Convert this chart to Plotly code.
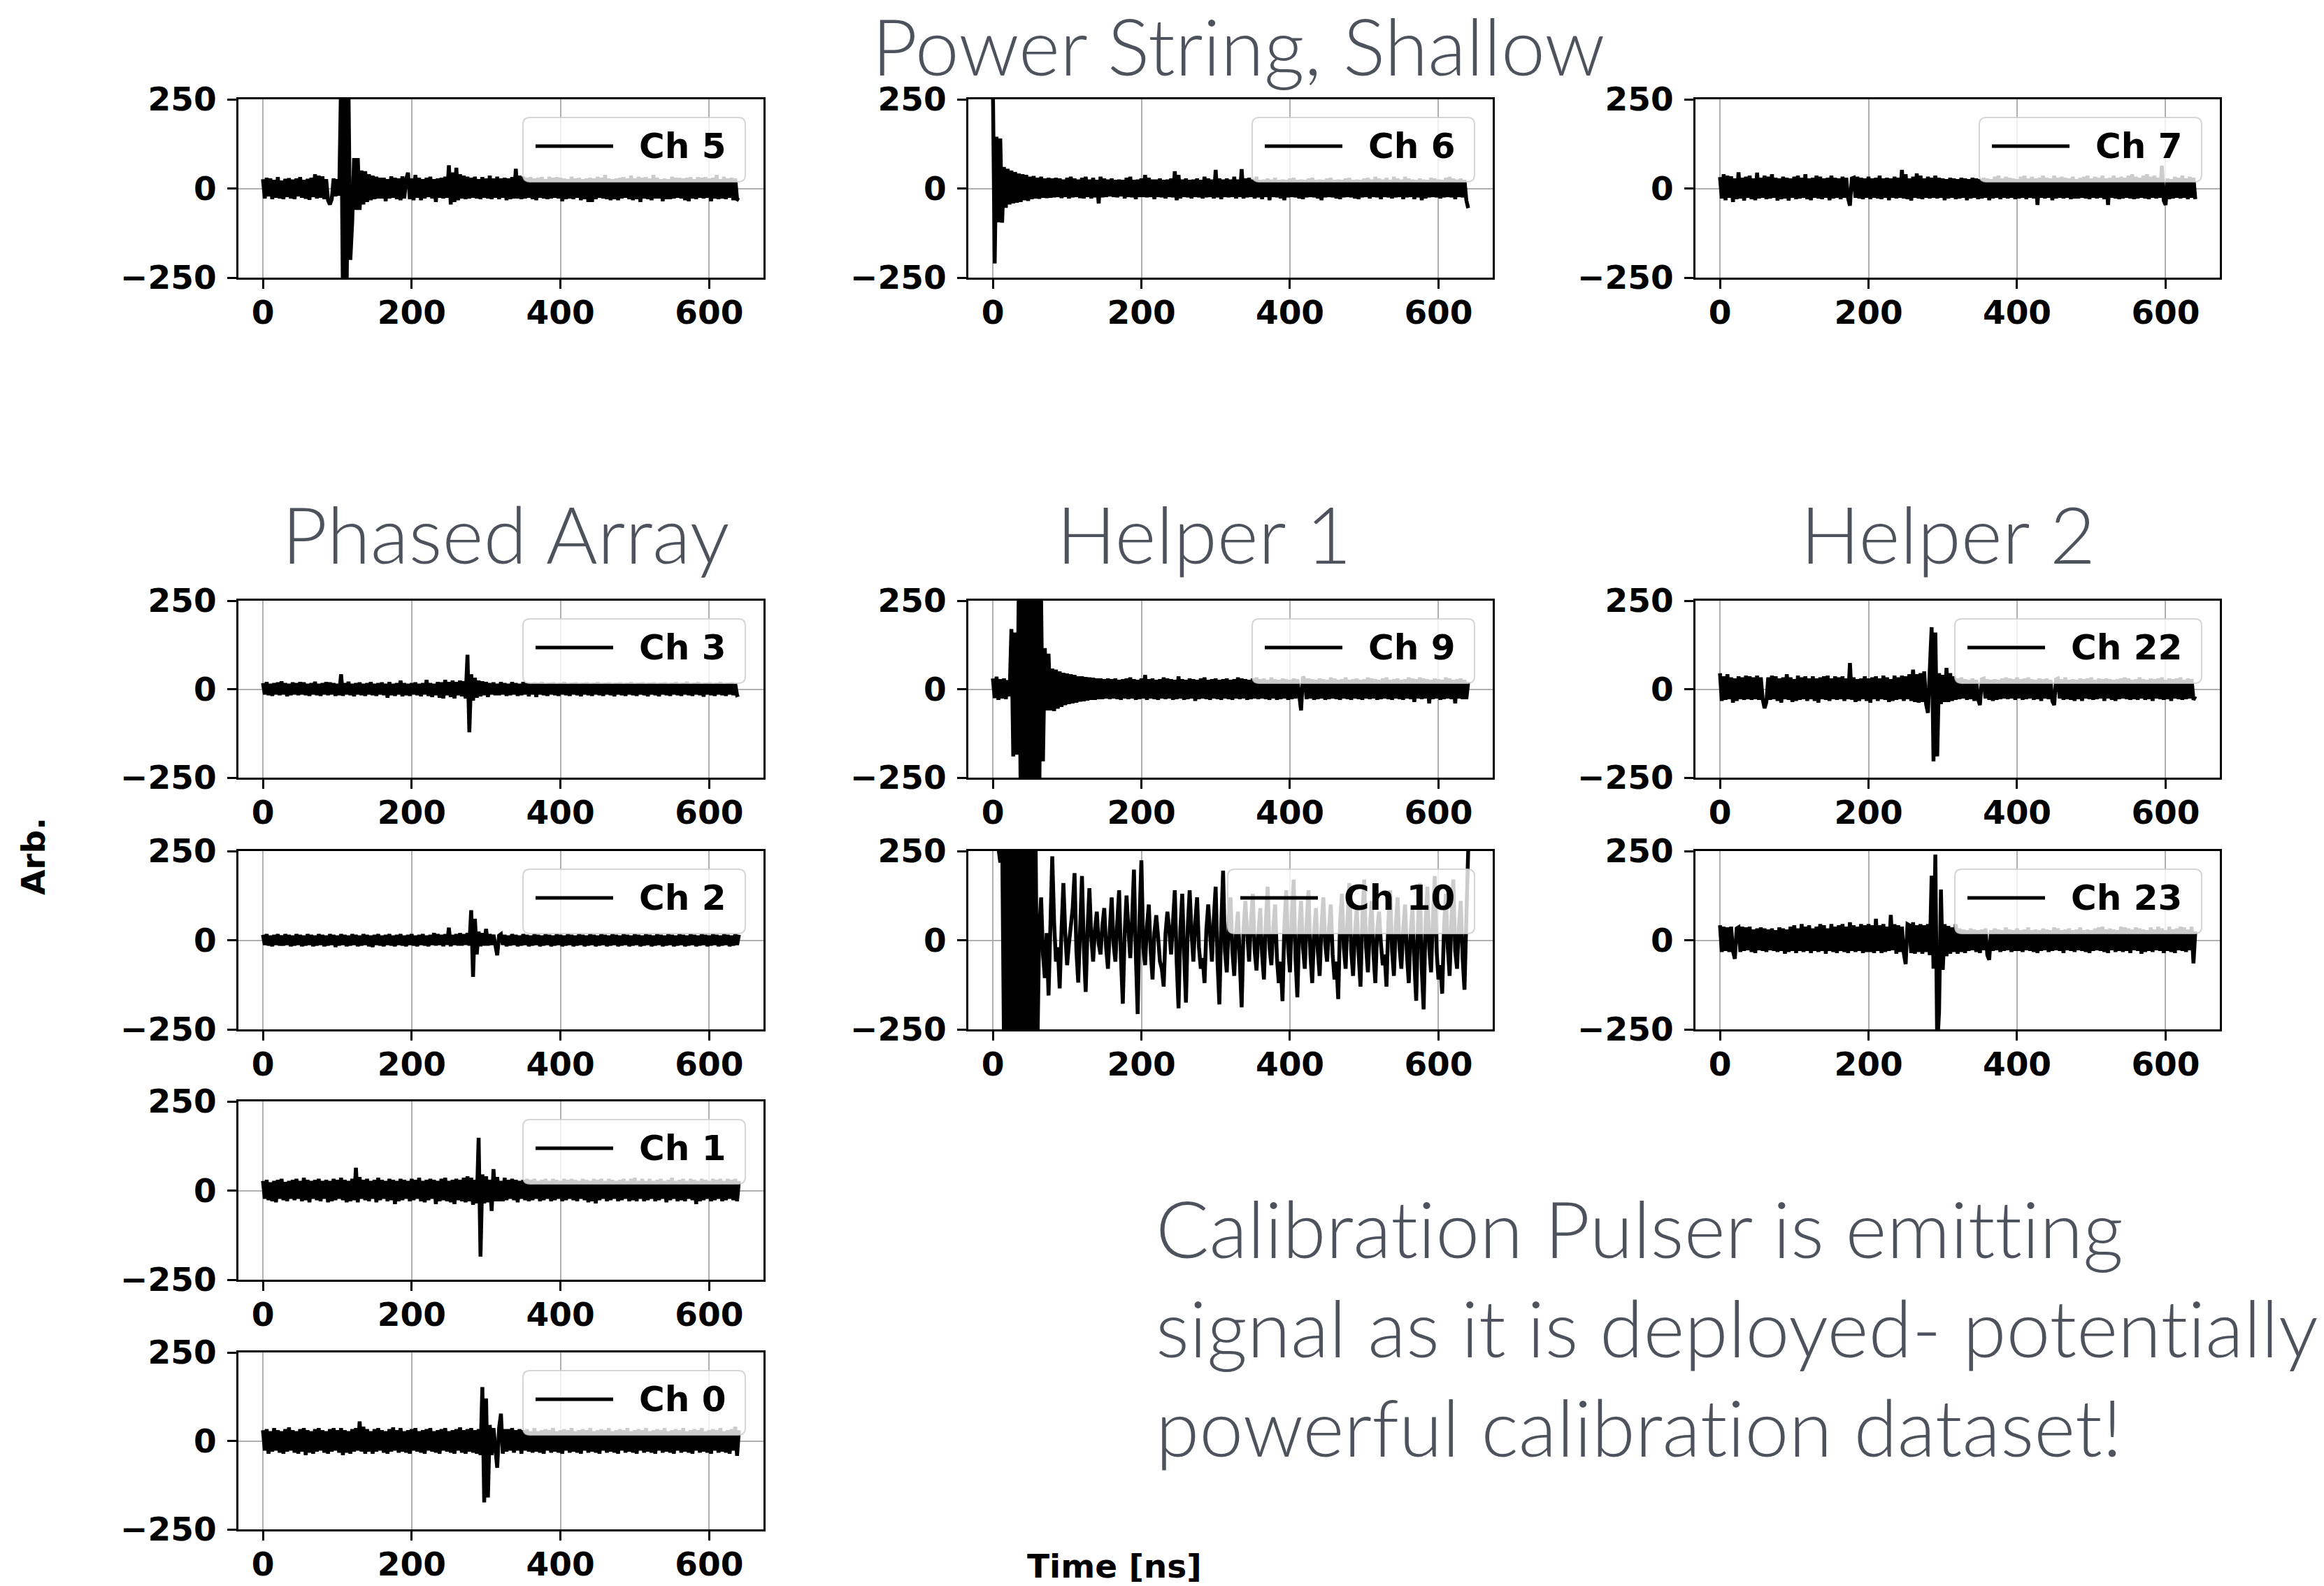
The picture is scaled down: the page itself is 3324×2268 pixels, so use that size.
import plotly.graph_objects as go

W, H = 3324, 2268
SAMPLE_NS = 2.5  # waveform sample spacing in ns

# ---- waveform samples (arb. units), one value every 2.5 ns from 0 to 640 ns ----
# (each row of 16 samples spans 40 ns)
ch5 = [26, -28, 30, -22, 28, -30, 24, -26, 32, -28, 22, -30, 27, -24, 29, -28,
       25, -30, 28, -22, 32, -26, 24, -29, 27, -32, 30, -24, 40, -28, 36, -26,
       34, -30, 26, -33, -45, -30, 28, -22, 26, -20, 300, -300, 300, -300, 280, -200,
       -95, 85, -60, 85, -60, 50, -45, 48, -38, 40, -33, 36, -30, 33, -28, 30,
       -28, 30, -36, 26, -28, 34, -26, 30, -30, 28, -33, 34, -28, 26, 44, -30,
       28, -33, 38, -26, 30, -33, 26, -28, 30, -24, 33, -28, 26, -38, 28, -26,
       30, -28, 33, -26, 65, -45, 45, -38, 58, -33, 40, -28, 36, -30, 33, -28,
       30, -26, 33, -28, 26, -30, 32, -26, 28, -28, 36, -30, 28, -26, 33, -30,
       28, -26, 30, -33, 28, -30, 32, -28, 55, -28, 36, -30, 33, -28, 30, -26,
       32, -30, 28, -33, 30, -26, 32, -28, 26, -30, 33, -28, 30, -26, 32, -28,
       30, -36, 28, -30, 26, -28, 33, -30, 28, -26, 30, -33, 26, -30, 28, -38,
       30, -38, 28, -30, 33, -26, 30, -28, 38, -30, 28, -33, 26, -30, 28, -33,
       30, -28, 32, -26, 28, -30, 36, -33, 28, -30, 33, -38, 30, -28, 32, -30,
       28, -33, 38, -28, 30, -28, 26, -36, 28, -30, 26, -30, 33, -28, 30, -26,
       30, -28, 28, -33, 30, -36, 32, -28, 26, -30, 32, -26, 30, -28, 32, -26,
       28, -36, 30, -28, 38, -30, 26, -28, 33, -30, 28, -26, 30, -33, 28, -30,
       -33]

ch6 = [300, -210, 145, -95, 140, -96, 60, -54, 55, -45, 50, -42, 46, -40, 42, -38,
       40, -33, 38, -35, 33, -30, 35, -28, 30, -29, 33, -26, 28, -27, 30, -26,
       28, -25, 30, -24, 28, -27, 25, -24, 30, -28, 33, -25, 28, -24, 25, -27,
       30, -28, 33, -24, 25, -28, 30, -25, 24, -42, 33, -25, 28, -24, 25, -22,
       28, -24, 24, -25, 25, -22, 24, -28, 30, -24, 33, -25, 24, -30, 25, -24,
       28, -24, 38, -25, 30, -24, 25, -30, 25, -24, 28, -25, 24, -28, 25, -24,
       28, -25, 48, -33, 38, -28, 25, -24, 28, -25, 24, -28, 25, -24, 28, -25,
       24, -28, 33, -25, 28, -24, 25, -28, 52, -25, 28, -30, 25, -24, 28, -25,
       25, -24, 33, -28, 25, -24, 54, -28, 28, -25, 30, -24, 25, -28, 33, -25,
       24, -30, 25, -24, 28, -33, 25, -24, 30, -25, 24, -28, 25, -33, 24, -25,
       28, -24, 30, -25, 24, -28, 25, -30, 24, -25, 28, -24, 30, -25, 24, -28,
       25, -33, 24, -25, 28, -24, 30, -25, 24, -28, 25, -30, 24, -25, 28, -24,
       30, -25, 24, -28, 25, -30, 24, -25, 28, -24, 30, -28, 25, -24, 33, -25,
       28, -30, 25, -24, 30, -25, 24, -28, 33, -25, 28, -24, 25, -30, 33, -25,
       28, -24, 25, -30, 24, -25, 28, -33, 25, -28, 24, -25, 30, -24, 28, -25,
       25, -28, 24, -25, 30, -24, 33, -25, 28, -30, 25, -24, 28, -25, 24, -33,
       -55]

ch7 = [32, -28, 40, -33, 36, -26, 34, -38, 28, -30, 45, -28, 30, -34, 33, -26,
       36, -30, 28, -33, 44, -28, 30, -26, 36, -30, 33, -28, 40, -26, 30, -34,
       28, -30, 33, -28, 30, -34, 28, -26, 33, -30, 36, -28, 30, -26, 40, -30,
       28, -33, 30, -26, 36, -28, 33, -30, 28, -26, 30, -33, 36, -28, 30, -26,
       28, -30, 33, -26, 30, -28, -48, 28, 30, -26, 33, -28, 30, -30, 28, -26,
       33, -30, 28, -26, 30, -28, 36, -30, 28, -26, 30, -33, 28, -26, 33, -28,
       30, -26, 52, -28, 40, -30, 28, -34, 33, -26, 42, -28, 36, -30, 28, -26,
       33, -28, 30, -26, 36, -28, 30, -26, 28, -33, 26, -28, 30, -26, 28, -30,
       26, -28, 30, -26, 28, -33, 26, -28, 30, -26, 28, -30, 26, -28, 30, -26,
       28, -33, 26, -28, 33, -26, 36, -30, 28, -26, 33, -28, 30, -26, 28, -30,
       26, -28, 33, -26, 36, -30, 28, -26, 33, -28, 28, -46, 30, -26, 36, -28,
       30, -26, 28, -33, 36, -28, 30, -26, 33, -28, 30, -26, 28, -30, 33, -28,
       26, -28, 30, -26, 33, -28, 36, -30, 28, -26, 33, -28, 30, -26, 36, -30,
       28, -46, 30, -26, 36, -28, 30, -30, 33, -28, 30, -26, 36, -28, 40, -30,
       33, -28, 30, -26, 36, -28, 40, -30, 33, -26, 36, -28, 30, -26, 64, -34,
       -46, 28, -30, 26, -28, 33, -26, 30, -28, 36, -26, 28, -30, 33, -26, 30,
       -30]

ch3 = [17, -15, 20, -17, 15, -19, 17, -15, 19, -17, 22, -15, 17, -20, 15, -17,
       19, -15, 17, -17, 20, -15, 19, -17, 15, -19, 17, -15, 21, -17, 15, -19,
       17, -15, 20, -17, 19, -15, 17, -19, 15, -17, 42, -19, 17, -15, 21, -17,
       15, -20, 17, -15, 19, -17, 15, -19, 17, -15, 20, -17, 15, -19, 17, -15,
       19, -17, 15, -24, 20, -17, 15, -19, 17, -15, 24, -20, 17, -17, 15, -19,
       17, -15, 19, -17, 15, -20, 17, -15, 26, -19, 17, -22, 15, -17, 20, -24,
       19, -26, 26, -17, 20, -22, 24, -26, 20, -17, 24, -20, 22, -26, 97, -122,
       42, -32, 32, -24, 24, -20, 22, -17, 20, -22, 17, -15, 19, -17, 15, -17,
       20, -15, 17, -19, 15, -17, 20, -15, 17, -19, 15, -17, 20, -15, 17, -20,
       17, -15, 19, -22, 17, -15, 20, -17, 15, -19, 17, -15, 19, -17, 15, -19,
       17, -15, 20, -17, 15, -19, 17, -15, 19, -17, 15, -20, 17, -15, 19, -17,
       15, -19, 17, -15, 20, -17, 15, -19, 17, -15, 19, -17, 15, -20, 17, -15,
       19, -17, 15, -19, 17, -15, 20, -17, 15, -19, 17, -15, 19, -17, 15, -20,
       17, -15, 19, -17, 15, -20, 17, -15, 19, -17, 15, -19, 17, -15, 20, -17,
       15, -19, 17, -15, 21, -17, 15, -19, 17, -15, 20, -17, 15, -21, 17, -15,
       19, -17, 15, -19, 17, -15, 20, -17, 15, -19, 17, -15, 19, -17, 15, -17,
       -15]

ch2 = [15, -13, 17, -15, 13, -17, 15, -13, 17, -15, 13, -15, 17, -13, 15, -17,
       13, -15, 17, -13, 15, -17, 13, -15, 17, -13, 15, -17, 13, -15, 17, -13,
       15, -17, 13, -15, 17, -13, 15, -19, 13, -15, 17, -13, 15, -17, 13, -15,
       17, -13, 15, -17, 13, -15, 17, -13, 15, -17, 13, -19, 15, -13, 17, -15,
       13, -17, 15, -13, 17, -15, 13, -17, 15, -13, 17, -15, 13, -17, 15, -13,
       17, -15, 13, -17, 15, -13, 17, -15, 13, -17, 15, -13, 20, -15, 17, -13,
       15, -17, 17, -13, 35, -17, 15, -13, 17, -15, 20, -15, 17, -13, 20, -15,
       84, -103, 60, -40, 24, -17, 20, -15, 32, -15, 17, -13, 15, -17, -42, 13,
       17, -13, 15, -17, 13, -15, 17, -13, 15, -17, 13, -15, 17, -13, 15, -17,
       13, -15, 17, -13, 15, -17, 13, -15, 17, -13, 15, -17, 13, -15, 17, -13,
       15, -17, 13, -15, 17, -13, 15, -17, 13, -15, 17, -13, 15, -17, 13, -15,
       17, -13, 15, -17, 13, -15, 17, -13, 15, -17, 13, -15, 17, -13, 15, -17,
       13, -15, 17, -13, 15, -17, 13, -15, 17, -13, 15, -17, 13, -15, 17, -13,
       15, -17, 13, -15, 17, -13, 15, -17, 13, -15, 17, -13, 15, -17, 13, -15,
       17, -13, 15, -17, 13, -15, 17, -13, 15, -17, 13, -15, 17, -13, 15, -17,
       13, -15, 17, -13, 15, -17, 13, -15, 17, -13, 15, -17, 13, -15, 17, -13,
       15]

ch1 = [27, -23, 30, -27, 23, -30, 27, -33, 30, -23, 33, -27, 24, -30, 27, -23,
       30, -27, 33, -23, 27, -30, 36, -27, 30, -33, 27, -23, 30, -27, 33, -30,
       27, -23, 30, -33, 27, -30, 33, -27, 30, -23, 36, -27, 30, -33, 27, -30,
       33, -27, 64, -33, 38, -23, 30, -27, 33, -30, 27, -23, 30, -33, 36, -27,
       30, -23, 27, -30, 33, -27, 30, -38, 27, -30, 33, -27, 30, -23, 27, -30,
       33, -27, 30, -23, 36, -30, 27, -33, 30, -27, 33, -23, 30, -38, 27, -30,
       33, -27, 36, -30, 27, -33, 30, -38, 33, -27, 30, -30, 36, -33, 40, -30,
       36, -40, 30, -36, 148, -185, 45, -36, 40, -33, 30, -57, 60, -30, 38, -30,
       27, -30, 36, -27, 30, -23, 33, -27, 30, -33, 27, -23, 30, -27, 33, -30,
       30, -27, 33, -23, 27, -30, 30, -27, 33, -23, 27, -30, 33, -27, 30, -23,
       27, -30, 33, -27, 30, -23, 33, -27, 30, -30, 27, -23, 33, -27, 30, -33,
       27, -30, 33, -36, 30, -27, 33, -23, 27, -30, 33, -27, 30, -23, 27, -30,
       30, -27, 33, -23, 27, -30, 33, -27, 36, -30, 27, -23, 33, -30, 27, -27,
       33, -23, 27, -30, 30, -27, 33, -23, 27, -33, 30, -27, 36, -23, 27, -30,
       30, -27, 33, -30, 27, -23, 33, -27, 30, -38, 27, -30, 33, -27, 30, -23,
       27, -30, 33, -27, 30, -23, 33, -30, 27, -27, 33, -23, 30, -27, 33, -30,
       27]

ch0 = [30, -27, 33, -36, 27, -30, 36, -27, 30, -33, 27, -36, 33, -30, 38, -27,
       30, -33, 27, -36, 33, -30, 36, -40, 30, -33, 27, -36, 33, -30, 36, -27,
       30, -33, 27, -36, 33, -30, 36, -27, 30, -33, 36, -40, 30, -33, 27, -36,
       33, -30, 36, -27, 55, -30, 40, -36, 33, -30, 27, -36, 33, -30, 36, -27,
       30, -33, 27, -36, 33, -30, 38, -27, 30, -33, 36, -30, 27, -33, 30, -36,
       33, -27, 36, -30, 27, -33, 30, -36, 33, -27, 36, -30, 27, -33, 30, -36,
       33, -27, 36, -30, 27, -33, 30, -36, 33, -27, 38, -33, 30, -36, 33, -30,
       36, -33, 30, -36, 33, -40, 152, -174, 120, -160, 45, -40, 36, -33, -76, 36,
       77, -36, 33, -30, 33, -27, 36, -33, 30, -27, 33, -36, 30, -27, 33, -30,
       27, -33, 36, -30, 27, -33, 30, -36, 33, -27, 30, -33, 36, -30, 27, -33,
       30, -36, 33, -27, 30, -33, 36, -30, 27, -33, 30, -36, 33, -27, 30, -33,
       36, -30, 27, -33, 30, -36, 33, -27, 30, -33, 36, -30, 27, -33, 30, -36,
       33, -27, 30, -33, 36, -30, 27, -33, 30, -36, 33, -27, 30, -33, 36, -30,
       27, -33, 30, -36, 33, -27, 30, -33, 36, -30, 27, -33, 30, -36, 33, -27,
       30, -33, 36, -30, 27, -33, 30, -36, 33, -27, 30, -33, 36, -30, 27, -33,
       30, -36, 33, -27, 30, -33, 36, -30, 27, -33, 30, -36, 33, -27, 40, -42,
       30]

ch9 = [30, -25, 35, -30, 28, -26, 30, -28, 25, -20, 170, -190, 160, -185, 300, -300,
       300, -300, 300, -300, 300, -300, 300, -300, 300, -300, 250, -204, 116, -60, 100, -60,
       58, -62, 55, -55, 50, -50, 46, -45, 44, -42, 42, -40, 40, -38, 36, -35,
       36, -34, 34, -32, 33, -30, 32, -30, 30, -28, 30, -28, 28, -26, 30, -28,
       28, -26, 30, -28, 26, -30, 28, -26, 30, -28, 33, -26, 28, -30, 26, -28,
       30, -26, 40, -30, 28, -26, 30, -28, 26, -30, 28, -26, 33, -28, 30, -26,
       28, -30, 26, -28, 36, -26, 28, -30, 26, -28, 30, -26, 28, -33, 26, -28,
       30, -26, 33, -28, 26, -30, 28, -26, 30, -28, 26, -30, 28, -26, 30, -28,
       26, -30, 28, -26, 33, -28, 30, -26, 28, -30, 26, -28, 30, -26, 33, -28,
       28, -26, 30, -28, 26, -30, 33, -26, 28, -30, 26, -28, 30, -26, 28, -30,
       26, -28, 30, -26, 28, -30, -60, 36, 26, -28, 30, -26, 28, -30, 26, -28,
       30, -26, 28, -30, 26, -28, 33, -26, 30, -28, 26, -30, 28, -26, 33, -28,
       26, -30, 28, -26, 30, -28, 26, -30, 28, -26, 33, -28, 30, -26, 28, -30,
       26, -28, 30, -26, 33, -28, 26, -30, 28, -26, 30, -28, 26, -30, 28, -26,
       33, -28, 30, -36, 28, -26, 33, -28, 30, -26, 28, -40, 26, -28, 30, -26,
       28, -30, 26, -28, 33, -26, 30, -28, 26, -40, 28, -26, 30, -28, 26, -28,
       20]

ch10 = [300, 300, 300, 260, 218, 300, -300, 300, -300, 300, -300, 300, -300, 300, -300, 300,
        -300, 300, -300, 300, -300, 300, -300, 300, -300, 30, 120, -40, -106, 20, -155, 40,
        235, 50, -60, -20, -135, 30, 160, 20, -70, -10, 40, 90, 188, -30, -119, 40,
        180, -20, -145, 30, 146, 10, -60, 30, 80, -10, -40, 40, 90, -20, -80, 30,
        120, -10, -60, 50, 140, -50, -178, 20, 125, 30, -50, 60, 198, -40, -207, 60,
        224, -20, -70, 40, 100, -30, -110, 20, 70, 10, -60, -80, -130, 20, 80, 30,
        -40, 50, 140, -60, -191, 30, 130, -40, -175, 40, 140, 20, -60, 50, 120, -20,
        -80, -50, -120, 30, 100, 20, -60, 60, 150, -60, -180, 40, 195, -30, -90, 40,
        120, -30, -100, 20, 80, -60, -188, 30, 110, 20, -60, 50, 130, -30, -85, 20,
        90, -40, -110, 50, 150, -20, -70, 30, 100, -50, -120, -60, -171, 40, 140, -20,
        -90, 60, 170, -50, -160, 30, 110, -20, -80, 50, 140, -40, -120, 20, 90, -30,
        -100, 40, 120, -10, -60, 30, 100, -40, -110, -60, -165, 50, 130, -20, -80, 60,
        160, -30, -100, 20, 90, -40, -130, 60, 170, -20, -90, 30, 110, -40, -120, 30,
        80, -10, -70, -40, -130, 50, 140, -30, -100, 40, 120, -20, -80, 30, 100, -40,
        -120, 20, 90, -60, -170, 50, 160, -80, -194, 40, 150, -20, -90, 60, 180, -30,
        -110, -70, -150, 40, 130, -20, -100, 60, 170, -30, -80, 40, 110, -50, -139, 60,
        250]

ch22 = [45, -33, 36, -30, 42, -28, 33, -38, 30, -33, 36, -28, 33, -30, 38, -28,
        36, -30, 33, -28, 38, -30, 33, -28, -54, -36, 33, -30, 38, -28, 36, -33,
        30, -38, 33, -28, 42, -30, 33, -36, 28, -33, 38, -30, 33, -28, 36, -33,
        30, -28, 36, -33, 30, -38, 33, -28, 36, -30, 38, -33, 30, -28, 36, -30,
        33, -28, 36, -33, 30, -28, 74, -30, 33, -36, 28, -33, 30, -28, 36, -33,
        30, -38, 33, -28, 36, -33, 30, -28, 38, -30, 33, -36, 28, -33, 38, -30,
        33, -28, 38, -33, 36, -28, 42, -33, 55, -36, 42, -38, 45, -36, 50, -42,
        -67, 45, 175, -204, 160, -190, 45, -42, 40, -36, 60, -36, 45, -33, 36, -30,
        30, -28, 33, -26, 28, -30, 26, -28, 30, -33, 26, -28, -45, 28, 30, -26,
        28, -30, 26, -33, 28, -30, 26, -28, 30, -26, 33, -28, 30, -26, 28, -30,
        33, -26, 28, -30, 30, -28, 33, -26, 28, -30, 26, -28, 30, -33, 28, -26,
        30, -28, 26, -33, -45, 28, 30, -26, 28, -30, 33, -28, 26, -30, 28, -33,
        26, -28, 30, -33, 28, -26, 30, -28, 33, -30, 26, -28, 30, -26, 28, -33,
        30, -26, 28, -30, 26, -33, 28, -28, 30, -26, 33, -28, 30, -30, 26, -28,
        28, -30, 33, -26, 28, -30, 26, -28, 30, -33, 28, -26, 30, -28, 33, -30,
        26, -28, 30, -33, 28, -26, 30, -28, 33, -30, 26, -28, 30, -26, 28, -30,
        -20]

ch23 = [42, -33, 38, -30, 36, -33, 38, -30, -52, 33, 36, -33, 38, -30, 36, -28,
        38, -33, 30, -36, 33, -28, 36, -30, 33, -33, 30, -28, 33, -30, 28, -33,
        36, -30, 33, -38, 30, -33, 38, -30, 42, -36, 33, -30, 45, -33, 38, -30,
        42, -36, 33, -30, 38, -33, 45, -30, 42, -38, 33, -30, 45, -33, 38, -36,
        42, -30, 45, -33, 38, -36, 50, -30, 42, -33, 38, -30, 45, -36, 42, -33,
        45, -33, 42, -36, 60, -30, 42, -36, 45, -33, 38, -30, 71, -28, 45, -38,
        42, -33, 38, -36, -67, 45, 42, -36, 50, -38, 42, -33, 45, -38, 42, -33,
        45, -42, 181, -80, 240, -300, -200, 142, -83, 45, -45, 40, -38, 36, -33, 45,
        -38, 33, -33, 30, -36, 28, -30, 33, -28, 30, -33, 28, -36, 30, -28, 33,
        -42, -55, 28, -30, 33, -28, 30, -33, 28, -30, 36, -28, 30, -33, 28, -30,
        33, -30, 28, -33, 30, -28, 36, -30, 28, -33, 30, -36, 28, -30, 33, -28,
        30, -33, 28, -30, 36, -28, 33, -30, 28, -36, 30, -28, 33, -30, 28, -33,
        30, -28, 36, -30, 28, -33, 30, -36, 28, -30, 33, -28, 36, -30, 38, -33,
        30, -36, 33, -28, 30, -33, 28, -30, 38, -33, 36, -30, 33, -36, 30, -28,
        36, -30, 33, -38, 30, -33, 28, -30, 36, -33, 30, -28, 38, -30, 33, -36,
        28, -30, 38, -33, 30, -36, 33, -28, 38, -30, 36, -33, 30, -28, 38, -65,
        25]

# ---- panel layout: pixel boxes (left, right) per column and (top, bottom) per row ----
COLS = [(341, 1092), (1385, 2135), (2425, 3175)]
ROWS = [(142, 397), (859, 1112), (1217, 1472), (1575, 1830), (1934, 2187)]

panels = [
    ("Ch 5", ch5, 0, 0), ("Ch 6", ch6, 1, 0), ("Ch 7", ch7, 2, 0),
    ("Ch 3", ch3, 0, 1), ("Ch 9", ch9, 1, 1), ("Ch 22", ch22, 2, 1),
    ("Ch 2", ch2, 0, 2), ("Ch 10", ch10, 1, 2), ("Ch 23", ch23, 2, 2),
    ("Ch 1", ch1, 0, 3), ("Ch 0", ch0, 0, 4),
]

X_RANGE = [-33, 673]
Y_RANGE = [-250, 250]
X_TICKS = [0, 200, 400, 600]
X_TICKTEXT = ["0", "200", "400", "600"]
Y_TICKS = [-250, 0, 250]
Y_TICKTEXT = ["\u2212250", "0", "250"]

TICK_FONT = dict(family="DejaVu Sans", size=47, color="black", weight="bold")
TITLE_FONT = dict(family="Lato", size=113, color="#4d525c", weight=300)
GRID = "#b0b0b0"
ZWNJ = "\u200c"  # keeps "ti"/"tt" from fusing into ligatures


def px(x):
    return x / W


def py(y):
    return 1 - y / H


def no_lig(s):
    return s.replace("ti", "t" + ZWNJ + "i").replace("tt", "t" + ZWNJ + "t")


fig = go.Figure()
shapes = []
annotations = []

for i, (label, values, col, row) in enumerate(panels):
    sfx = "" if i == 0 else str(i + 1)
    (l, r), (t, b) = COLS[col], ROWS[row]
    times = [SAMPLE_NS * k for k in range(len(values))]
    fig.add_trace(go.Scatter(
        x=times, y=values, mode="lines", name=label, showlegend=False,
        line=dict(color="black", width=5.5),
        xaxis="x" + sfx, yaxis="y" + sfx, hoverinfo="skip",
    ))
    common = dict(showline=True, mirror=True, linecolor="black", linewidth=3,
                  ticks="outside", ticklen=13, tickwidth=3, tickcolor="black",
                  showgrid=True, gridcolor=GRID, gridwidth=2, zeroline=False,
                  tickfont=TICK_FONT, fixedrange=True, automargin=False)
    fig.layout["xaxis" + sfx] = dict(
        domain=[px(l), px(r)], anchor="y" + sfx, range=X_RANGE,
        tickmode="array", tickvals=X_TICKS, ticktext=X_TICKTEXT,
        ticklabelstandoff=-6, **common)
    fig.layout["yaxis" + sfx] = dict(
        domain=[py(b), py(t)], anchor="x" + sfx, range=Y_RANGE,
        tickmode="array", tickvals=Y_TICKS, ticktext=Y_TICKTEXT,
        ticklabelstandoff=6, **common)

    # legend box in the upper-right corner of each panel
    bw = 318 + 35 * (len(label) - 4)
    x1, y0 = r - 26, t + 26
    x0, y1 = x1 - bw, y0 + 92
    rr = 10
    path = (f"M {px(x0 + rr)},{py(y0)} L {px(x1 - rr)},{py(y0)} "
            f"Q {px(x1)},{py(y0)} {px(x1)},{py(y0 + rr)} L {px(x1)},{py(y1 - rr)} "
            f"Q {px(x1)},{py(y1)} {px(x1 - rr)},{py(y1)} L {px(x0 + rr)},{py(y1)} "
            f"Q {px(x0)},{py(y1)} {px(x0)},{py(y1 - rr)} L {px(x0)},{py(y0 + rr)} "
            f"Q {px(x0)},{py(y0)} {px(x0 + rr)},{py(y0)} Z")
    shapes.append(dict(type="path", path=path, xref="paper", yref="paper",
                       fillcolor="rgba(255,255,255,0.8)",
                       line=dict(color="rgba(204,204,204,0.8)", width=2),
                       layer="above"))
    ly = y0 + 41
    shapes.append(dict(type="line", xref="paper", yref="paper",
                       x0=px(x0 + 18), x1=px(x0 + 129), y0=py(ly), y1=py(ly),
                       line=dict(color="black", width=5), layer="above"))
    annotations.append(dict(text=label, xref="paper", yref="paper",
                            x=px(x0 + 164), y=py(ly), xanchor="left", yanchor="middle",
                            showarrow=False,
                            font=dict(family="DejaVu Sans", size=50, color="black",
                                      weight="bold")))

# group titles
group_titles = [
    ("Power String, Shallow", 1771, 64),
    ("Phased Array", 723, 762),
    ("Helper 1", 1722, 762),
    ("Helper 2", 2786, 762),
]
for text, x, y in group_titles:
    annotations.append(dict(text=no_lig(text), xref="paper", yref="paper",
                            x=px(x), y=py(y), xanchor="center", yanchor="middle",
                            showarrow=False, font=TITLE_FONT))

# note text
note_lines = [
    "Calibration Pulser is emitting",
    "signal as it is deployed- potentially",
    "powerful calibration dataset!",
]
for k, line in enumerate(note_lines):
    annotations.append(dict(text=no_lig(line), xref="paper", yref="paper",
                            x=px(1651), y=py(1755 + 142 * k),
                            xanchor="left", yanchor="middle", showarrow=False,
                            font=TITLE_FONT))

# shared axis labels
annotations.append(dict(text="Arb.", xref="paper", yref="paper", x=px(47), y=py(1225),
                        textangle=-90, xanchor="center", yanchor="middle",
                        showarrow=False, font=TICK_FONT))
annotations.append(dict(text="Time [ns]", xref="paper", yref="paper",
                        x=px(1594), y=py(2239), xanchor="center", yanchor="middle",
                        showarrow=False, font=TICK_FONT))

fig.update_layout(
    width=W, height=H, margin=dict(l=0, r=0, t=0, b=0),
    paper_bgcolor="white", plot_bgcolor="white",
    shapes=shapes, annotations=annotations, showlegend=False,
)

fig.write_html("out.html")
